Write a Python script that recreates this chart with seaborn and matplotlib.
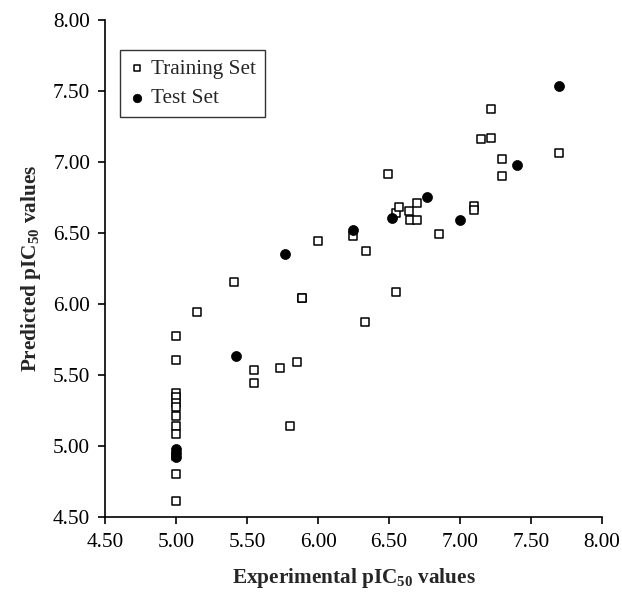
import matplotlib
matplotlib.use("Agg")
import matplotlib.pyplot as plt
import seaborn as sns
import pandas as pd
from matplotlib.ticker import FormatStrFormatter

# Training set (hollow squares)
train_exp = [5.00, 5.00, 5.00, 5.00, 5.00, 5.00, 5.00, 5.00, 5.00, 5.00, 5.00, 5.00,
             5.15, 5.41, 5.55, 5.55, 5.73, 5.85, 5.80, 5.89, 5.89, 6.00, 6.25, 6.34,
             6.33, 6.55, 6.49, 6.55, 6.57, 6.64, 6.65, 6.70, 6.70, 6.85, 7.10, 7.10,
             7.15, 7.22, 7.22, 7.30, 7.30, 7.70]
train_pred = [5.77, 5.60, 5.37, 5.34, 5.30, 5.27, 5.21, 5.14, 5.08, 4.93, 4.80, 4.61,
              5.94, 6.15, 5.53, 5.44, 5.55, 5.59, 5.14, 6.04, 6.04, 6.44, 6.48, 6.37,
              5.87, 6.08, 6.91, 6.64, 6.68, 6.65, 6.59, 6.59, 6.71, 6.49, 6.69, 6.66,
              7.16, 7.17, 7.37, 7.02, 6.90, 7.06]

# Test set (filled circles)
test_exp = [5.00, 5.00, 5.00, 5.42, 5.77, 6.25, 6.52, 6.77, 7.00, 7.40, 7.70]
test_pred = [4.98, 4.95, 4.92, 5.63, 6.35, 6.52, 6.60, 6.75, 6.59, 6.98, 7.53]

ticks = [4.50, 5.00, 5.50, 6.00, 6.50, 7.00, 7.50, 8.00]

sns.set_theme(style="ticks")
plt.rcParams["font.family"] = ["Liberation Serif", "DejaVu Serif"]
plt.rcParams["mathtext.fontset"] = "custom"
plt.rcParams["mathtext.rm"] = "Liberation Serif:bold"
plt.rcParams["mathtext.bf"] = "Liberation Serif:bold"

train_df = pd.DataFrame({"exp": train_exp, "pred": train_pred})
test_df = pd.DataFrame({"exp": test_exp, "pred": test_pred})

fig = plt.figure(figsize=(6.22, 5.92), dpi=100)
ax = fig.add_axes([105.3 / 622, 1 - 516.7 / 592, (601.7 - 105.3) / 622, (516.7 - 19.7) / 592])

sns.scatterplot(data=train_df, x="exp", y="pred", ax=ax, marker="s", s=34,
                facecolor="white", edgecolor="black", linewidth=1.1,
                label="Training Set", zorder=3)
sns.scatterplot(data=test_df, x="exp", y="pred", ax=ax, marker="o", s=52,
                color="black", edgecolor="black", linewidth=0.5,
                label="Test Set", zorder=4)

ax.set_xlim(4.5, 8.0)
ax.set_ylim(4.5, 8.0)
ax.set_xticks(ticks)
ax.set_yticks(ticks)
ax.xaxis.set_major_formatter(FormatStrFormatter("%.2f"))
ax.yaxis.set_major_formatter(FormatStrFormatter("%.2f"))
ax.tick_params(axis="both", direction="out", length=5, width=1.2, colors="black",
               labelsize=15.3)
ax.tick_params(axis="x", pad=7)
ax.tick_params(axis="y", pad=6)
for sp in ["top", "right"]:
    ax.spines[sp].set_visible(False)
for sp in ["left", "bottom"]:
    ax.spines[sp].set_color("black")
    ax.spines[sp].set_linewidth(1.2)

ax.set_xlabel(r"Experimental pIC$_{\mathbf{50}}$ values", fontsize=15.3,
              fontweight="bold", labelpad=10)
ax.set_ylabel(r"Predicted pIC$_{\mathbf{50}}$ values", fontsize=15.3,
              fontweight="bold", labelpad=7)

leg = ax.legend(loc="upper left", bbox_to_anchor=(14.7 / 496.4, 1 - 30.3 / 497),
                frameon=True, fancybox=False, fontsize=15.3, handletextpad=0.25,
                borderpad=0.42, labelspacing=0.45, handlelength=0.8, borderaxespad=0,
                markerscale=0.85)
leg.get_frame().set_edgecolor("black")
leg.get_frame().set_linewidth(1.0)

fig.savefig("out.png", dpi=100)
